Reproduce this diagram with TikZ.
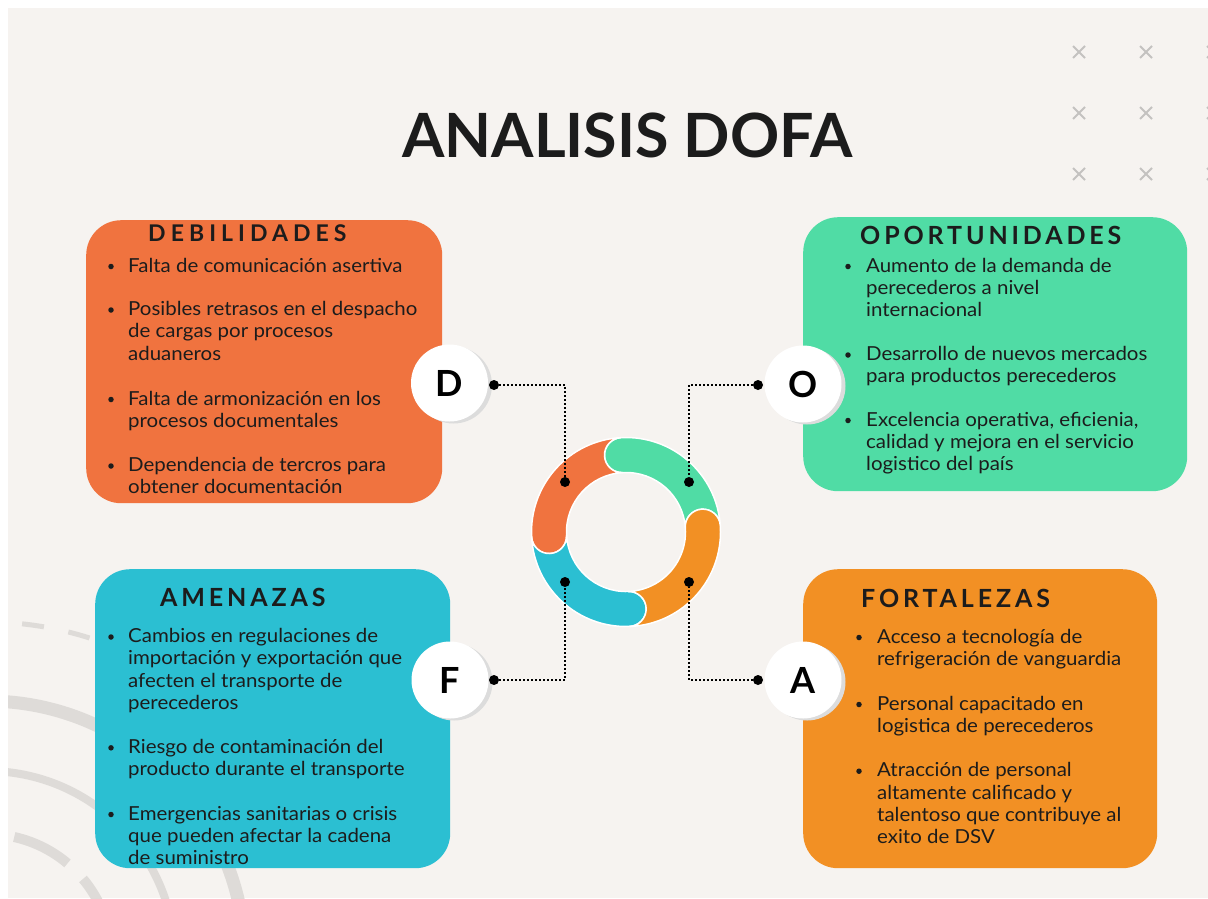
\documentclass[tikz,border=0pt]{standalone}
\usepackage{fontspec}
\setmainfont{Lato}[FakeStretch=1.06]
\newfontfamily\hdrfont[LetterSpace=15.5]{Lato}
\newfontfamily\hdrfontw[LetterSpace=22]{Lato}
\newfontfamily\titlefont{Lato}
\definecolor{bg}{HTML}{F6F3F0}
\definecolor{cD}{HTML}{F0733F}
\definecolor{cO}{HTML}{50DCA5}
\definecolor{cA}{HTML}{2BBFD2}
\definecolor{cF}{HTML}{F29024}
\definecolor{txt}{HTML}{1C1C1C}
\definecolor{deco}{HTML}{DEDBD8}
\definecolor{xgray}{HTML}{C4C2C0}
\definecolor{shad}{HTML}{DCDCDC}
\newcommand\ringseg[3]{%
  \filldraw[fill=#1, draw=white, line width=1.5pt]
    (#2:94.5) arc[start angle=#2, end angle=#3, radius=94.5]
    arc[start angle=#3, end angle=#3+180, radius=17.5]
    arc[start angle=#3, end angle=#2, radius=59.5]
    arc[start angle=#2+180, end angle=#2, radius=17.5] -- cycle;}
\begin{document}
\begin{tikzpicture}[x=1pt,y=-1pt,
  box/.style={rectangle, rounded corners=35pt, inner sep=0pt, anchor=north west},
  hdr/.style={anchor=base west, inner sep=0pt, text=txt, font=\hdrfont\bfseries\fontsize{25}{25}\selectfont},
  item/.style={anchor=base west, inner sep=0pt, align=left, text=txt, font=\fontsize{19.3}{22.3}\selectfont},
  bul/.style={circle, fill=txt, inner sep=0pt, minimum size=5.5pt},
  letter/.style={circle, fill=white, inner sep=0pt, minimum size=77pt, text=black, font=\titlefont\bfseries\fontsize{36}{36}\selectfont},
  jdot/.style={circle, fill=black, inner sep=0pt, minimum size=10pt},
  conn/.style={line width=1.8pt, dash pattern=on 1.8pt off 2.2pt, black},
  xmark/.style={line width=1.8pt, draw=xgray},
  decoline/.style={draw=deco}]
\useasboundingbox (0,0) rectangle (1208,898);
\fill[white] (0,0) rectangle (1208,898);
\fill[bg] (8,8) rectangle (1208,898);
% decorative arcs
\begin{scope}
\clip (8,8) rectangle (1208,898);
\begin{scope}[shift={(-13,959)}, yscale=-1]
\draw[decoline, line width=5pt, dash pattern=on 22pt off 25pt] (100:337) arc[start angle=100, end angle=62, radius=337];
\draw[decoline, line width=13pt] (0,0) circle (258);
\draw[decoline, line width=8pt] (0,0) circle (188);
\draw[decoline, line width=10pt, dash pattern=on 60pt off 22pt] (115:125) arc[start angle=115, end angle=0, radius=125];
\end{scope}
\end{scope}
% x marks
\foreach \cx in {1079,1146,1213} \foreach \cy in {52,113,174}
  \draw[xmark] (\cx-6,\cy-6) -- (\cx+6,\cy+6) (\cx-6,\cy+6) -- (\cx+6,\cy-6);
% title
\node[anchor=base west, inner sep=0pt, text=txt, font=\titlefont\bfseries\fontsize{61}{61}\selectfont] (title) at (402,157) {ANALISIS DOFA};
% boxes
\node[box, fill=cD, minimum width=356pt, minimum height=283pt] (bD) at (86,220) {};
\node[box, fill=cO, minimum width=384pt, minimum height=274pt] (bO) at (803,217) {};
\node[box, fill=cA, minimum width=355pt, minimum height=299pt] (bA) at (95,569) {};
\node[box, fill=cF, minimum width=354pt, minimum height=299pt] (bF) at (803,569) {};
% headers
\node[hdr, font=\hdrfontw\bfseries\fontsize{23}{23}\selectfont] (hD) at (148,241.7) {DEBILIDADES};
\node[hdr] (hO) at (860,244) {OPORTUNIDADES};
\node[hdr] (hA) at (160,606.7) {AMENAZAS};
\node[hdr] (hF) at (861,607) {FORTALEZAS};
% DEBILIDADES items (anchor = baseline of last line)
\node[item] (d1) at (128,272) {Falta de comunicación asertiva};
\node[item] (d2) at (128,315.5+2*22.3) {Posibles retrasos en el despacho\\de cargas por procesos\\aduaneros};
\node[item] (d3) at (128,405+22.3) {Falta de armonización en los\\procesos documentales};
\node[item] (d4) at (128,471.5+22.3) {Dependencia de tercros para\\obtener documentación};
\foreach \b/\y in {1/272,2/315.5,3/405,4/471.5} \node[bul] (bd\b) at (111,\y-5.5) {};
% OPORTUNIDADES items
\node[item] (o1) at (866,272+2*22.3) {Aumento de la demanda de\\perecederos a nivel\\internacional};
\node[item] (o2) at (866,360.5+22.3) {Desarrollo de nuevos mercados\\para productos perecederos};
\node[item] (o3) at (866,426+2*22.3) {Excelencia operativa, eficienia,\\calidad y mejora en el servicio\\logistico del país};
\foreach \b/\y in {1/272,2/360.5,3/426} \node[bul] (bo\b) at (848,\y-5.5) {};
% AMENAZAS items
\node[item] (a1) at (128,642.5+3*22.3) {Cambios en regulaciones de\\importación y exportación que\\afecten el transporte de\\perecederos};
\node[item] (a2) at (128,753.3+22.3) {Riesgo de contaminación del\\producto durante el transporte};
\node[item] (a3) at (128,820+2*22.3) {Emergencias sanitarias o crisis\\que pueden afectar la cadena\\de suministro};
\foreach \b/\y in {1/642.5,2/753.3,3/820} \node[bul] (ba\b) at (111,\y-5.5) {};
% FORTALEZAS items
\node[item] (f1) at (877,643+22.3) {Acceso a tecnología de\\refrigeración de vanguardia};
\node[item] (f2) at (877,710+22.3) {Personal capacitado en\\logistica de perecederos};
\node[item] (f3) at (877,776.7+3*22.3) {Atracción de personal\\altamente calificado y\\talentoso que contribuye al\\exito de DSV};
\foreach \b/\y in {1/643,2/710,3/776.7} \node[bul] (bf\b) at (859,\y-5.5) {};
% letter circles
\fill[shad] (453.5,385) circle (38.5);
\fill[shad] (807,386) circle (38.5);
\fill[shad] (454,682) circle (38.5);
\fill[shad] (807,682) circle (38.5);
\node[letter] (lD) at (449.5,383) {D};
\node[letter] (lO) at (803,384) {O};
\node[letter] (lF) at (450,680) {F};
\node[letter] (lA) at (803,680) {A};
% ring
\begin{scope}[shift={(626,532)}, yscale=-1]
\ringseg{cO}{4}{93}
\ringseg{cD}{93}{183}
\ringseg{cA}{183}{272}
\ringseg{cF}{272}{364}
\end{scope}
% junction dots
\node[jdot] (jD) at (494,385) {};
\node[jdot] (rD) at (565,482) {};
\node[jdot] (jO) at (758,385) {};
\node[jdot] (rO) at (689,482) {};
\node[jdot] (jF) at (494,680) {};
\node[jdot] (rF) at (565,582) {};
\node[jdot] (jA) at (758,680) {};
\node[jdot] (rA) at (689,582) {};
\draw[conn] (jD) -| (rD);
\draw[conn] (jO) -| (rO);
\draw[conn] (jF) -| (rF);
\draw[conn] (jA) -| (rA);
\end{tikzpicture}
\end{document}
